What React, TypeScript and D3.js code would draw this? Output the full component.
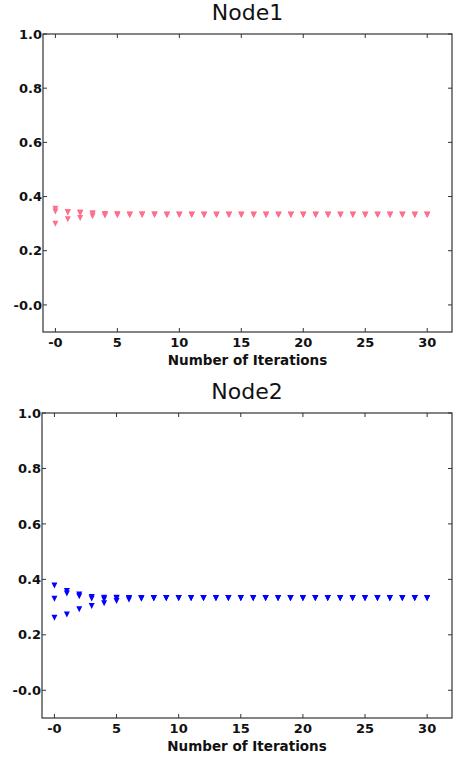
import React from 'react';
import * as d3 from 'd3';

const iterations = [0, 1, 2, 3, 4, 5, 6, 7, 8, 9, 10, 11, 12, 13, 14, 15, 16, 17, 18, 19, 20, 21, 22, 23, 24, 25, 26, 27, 28, 29, 30];

const node1A = [0.355, 0.342, 0.341, 0.338, 0.336, 0.335, 0.334, 0.334, 0.334, 0.333, 0.333, 0.333, 0.333, 0.333, 0.333, 0.333, 0.333, 0.333, 0.333, 0.333, 0.333, 0.333, 0.333, 0.333, 0.333, 0.333, 0.333, 0.333, 0.333, 0.333, 0.333];
const node1B = [0.345, 0.342, 0.338, 0.335, 0.334, 0.334, 0.333, 0.333, 0.333, 0.333, 0.333, 0.333, 0.333, 0.333, 0.333, 0.333, 0.333, 0.333, 0.333, 0.333, 0.333, 0.333, 0.333, 0.333, 0.333, 0.333, 0.333, 0.333, 0.333, 0.333, 0.333];
const node1C = [0.300, 0.316, 0.321, 0.327, 0.330, 0.331, 0.332, 0.333, 0.333, 0.333, 0.333, 0.333, 0.333, 0.333, 0.333, 0.333, 0.333, 0.333, 0.333, 0.333, 0.333, 0.333, 0.333, 0.333, 0.333, 0.333, 0.333, 0.333, 0.333, 0.333, 0.333];

const node2A = [0.378, 0.358, 0.345, 0.336, 0.334, 0.334, 0.333, 0.333, 0.333, 0.333, 0.333, 0.333, 0.333, 0.333, 0.333, 0.333, 0.333, 0.333, 0.333, 0.333, 0.333, 0.333, 0.333, 0.333, 0.333, 0.333, 0.333, 0.333, 0.333, 0.333, 0.333];
const node2B = [0.330, 0.349, 0.339, 0.331, 0.328, 0.331, 0.332, 0.333, 0.333, 0.333, 0.333, 0.333, 0.333, 0.333, 0.333, 0.333, 0.333, 0.333, 0.333, 0.333, 0.333, 0.333, 0.333, 0.333, 0.333, 0.333, 0.333, 0.333, 0.333, 0.333, 0.333];
const node2C = [0.262, 0.273, 0.292, 0.304, 0.314, 0.322, 0.327, 0.330, 0.332, 0.333, 0.333, 0.333, 0.333, 0.333, 0.333, 0.333, 0.333, 0.333, 0.333, 0.333, 0.333, 0.333, 0.333, 0.333, 0.333, 0.333, 0.333, 0.333, 0.333, 0.333, 0.333];

const xTicks = [0, 5, 10, 15, 20, 25, 30];
const xTickLabels = ['-0', '5', '10', '15', '20', '25', '30'];
const yTicks = [1.0, 0.8, 0.6, 0.4, 0.2, 0.0];
const yTickLabels = ['1.0', '0.8', '0.6', '0.4', '0.2', '-0.0'];

const font = 'DejaVu Sans, sans-serif';

type PanelProps = {
  title: string;
  series: number[][];
  color: string;
  top: number;
  bottom: number;
  left: number;
  right: number;
};

const Panel = ({ title, series, color, top, bottom, left, right }: PanelProps) => {
  const x = d3.scaleLinear().domain([-1, 32]).range([left, right]);
  const y = d3.scaleLinear().domain([-0.1, 1.0]).range([bottom, top]);
  const tick = 4;

  const marker = (cx: number, cy: number) =>
    `M${cx - 3},${cy - 3}L${cx + 3},${cy - 3}L${cx},${cy + 3}Z`;

  return (
    <g>
      <text x={(left + right) / 2} y={top - 14} textAnchor="middle" fontSize={22} fontFamily={font} fill="#111">
        {title}
      </text>
      {series.map((s, si) => (
        <g key={si} fill={color}>
          {s.map((v, i) => (
            <path key={i} d={marker(x(iterations[i]), y(v))} />
          ))}
        </g>
      ))}
      <rect x={left} y={top} width={right - left} height={bottom - top} fill="none" stroke="#333" strokeWidth={1.2} />
      {xTicks.map((t, i) => (
        <g key={'x' + t}>
          <line x1={x(t)} x2={x(t)} y1={bottom} y2={bottom - tick} stroke="#333" />
          <line x1={x(t)} x2={x(t)} y1={top} y2={top + tick} stroke="#333" />
          <text x={x(t)} y={bottom + 15} textAnchor="middle" fontSize={13} fontWeight="bold" fontFamily={font} fill="#111">
            {xTickLabels[i]}
          </text>
        </g>
      ))}
      {yTicks.map((t, i) => (
        <g key={'y' + t}>
          <line x1={left} x2={left + tick} y1={y(t)} y2={y(t)} stroke="#333" />
          <line x1={right} x2={right - tick} y1={y(t)} y2={y(t)} stroke="#333" />
          <text x={left - 1} y={y(t)} dy="0.36em" textAnchor="end" fontSize={13} fontWeight="bold" fontFamily={font} fill="#111">
            {yTickLabels[i]}
          </text>
        </g>
      ))}
      <text x={(left + right) / 2} y={bottom + 33} textAnchor="middle" fontSize={13.5} fontWeight="bold" fontFamily={font} fill="#111">
        Number of Iterations
      </text>
    </g>
  );
};

const App = () => {
  return (
    <svg width={457} height={758} style={{ position: 'absolute', left: 0, top: 0, background: '#fff' }}>
      <rect width={457} height={758} fill="#fff" />
      <Panel title="Node1" series={[node1A, node1B, node1C]} color="#ff6f8c" top={34} bottom={332} left={43} right={452} />
      <Panel title="Node2" series={[node2A, node2B, node2C]} color="#0000ff" top={413} bottom={718} left={42} right={452} />
    </svg>
  );
};

export default App;
